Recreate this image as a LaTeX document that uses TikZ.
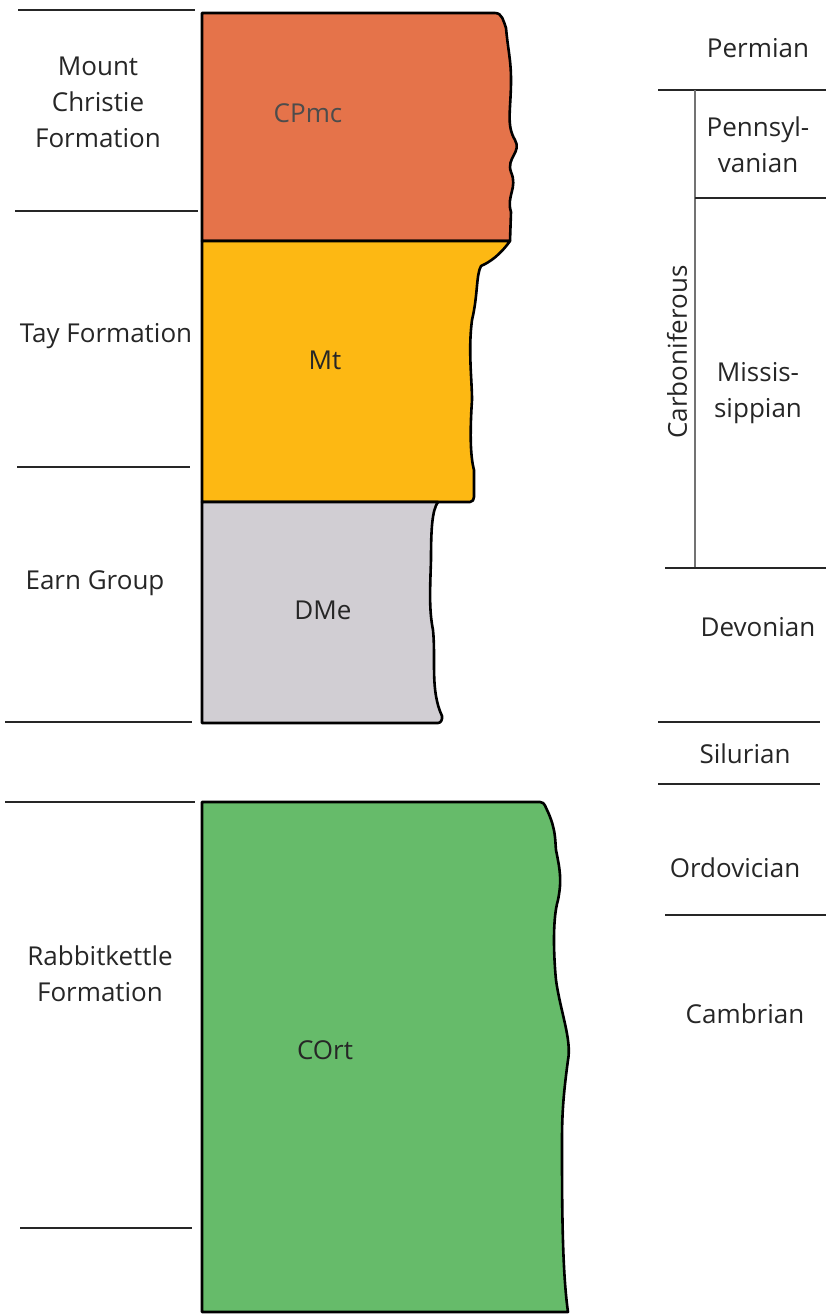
\documentclass[tikz,border=0pt]{standalone}
\usepackage{fontspec}
\setmainfont{Open Sans}
\definecolor{cpmc}{HTML}{E5734A}
\definecolor{mt}{HTML}{FDB813}
\definecolor{dme}{HTML}{D1CED3}
\definecolor{cort}{HTML}{66BB6A}
\begin{document}
\begin{tikzpicture}
			[x=1pt,y=-1pt,
			unit/.style={draw=black,line width=2.6pt,line join=round},
			lbl/.style={font=\fontsize{26}{36}\selectfont,align=center,inner sep=0pt,text=black!85},
			rule/.style={line width=2pt,black!85},
			thin/.style={line width=1.2pt,black!55}]
			\useasboundingbox (0,0) rectangle (826,1315);
			% rock units
			\draw[unit,fill=cpmc] (202,13) -- (495,13) to[out=0,in=110] (506,28)
				.. controls (508,50) and (511,60) .. (511,80)
				.. controls (511,110) and (506,125) .. (515,140)
				.. controls (522,152) and (506,158) .. (511,172)
				.. controls (518,188) and (506,196) .. (511,212)
				-- (510,241) -- (202,241) -- cycle;
			\draw[unit,fill=mt] (202,241) -- (510,241)
				.. controls (500,255) and (490,262) .. (481,266)
				.. controls (476,275) and (478,295) .. (472,320)
				.. controls (468,350) and (472,380) .. (472,400)
				.. controls (470,430) and (470,455) .. (474,470)
				-- (474,497) to[out=-90,in=0] (470,502) -- (202,502) -- cycle;
			\draw[unit,fill=dme] (202,502) -- (438,502)
				.. controls (432,510) and (431,530) .. (431,560)
				.. controls (430,590) and (429,610) .. (433,630)
				.. controls (436,660) and (430,690) .. (442,716)
				to[out=-80,in=0] (438,723) -- (202,723) -- cycle;
			\draw[unit,fill=cort] (202,802) -- (540,802) to[out=0,in=120] (548,812)
				.. controls (556,830) and (555,840) .. (556,850)
				.. controls (560,870) and (562,880) .. (558,900)
				.. controls (552,920) and (554,960) .. (556,980)
				.. controls (560,1010) and (572,1040) .. (568,1060)
				.. controls (564,1090) and (562,1110) .. (562,1140)
				.. controls (562,1200) and (562,1270) .. (568,1312)
				-- (202,1312) -- cycle;
			\node[lbl,name=cpmcname,text=black!70] at (308,113) {CPmc};
			\node[lbl,name=mtname] at (325,360) {Mt};
			\node[lbl,name=dmename] at (323,610) {DMe};
			\node[lbl,name=cortname] at (325,1050) {COrt};
			% formations
			\draw[rule] (18,10) -- (195,10);
			\draw[rule] (15,211) -- (198,211);
			\draw[rule] (17,467) -- (190,467);
			\draw[rule] (5,722) -- (192,722);
			\draw[rule] (5,802) -- (195,802);
			\draw[rule] (20,1228) -- (192,1228);
			\node[lbl,name=mountchristie] at (98,102) {Mount\\Christie\\Formation};
			\node[lbl,name=tay] at (106,336) {Tay Formation};
			\node[lbl,name=earn] at (95,583) {Earn Group};
			\node[lbl,name=rabbitkettle] at (100,974) {Rabbitkettle\\Formation};
			% periods
			\draw[rule] (658,90) -- (826,90);
			\draw[thin] (695,90) -- (695,568);
			\draw[rule] (695,198) -- (826,198);
			\draw[rule] (665,568) -- (826,568);
			\draw[rule] (658,722) -- (820,722);
			\draw[rule] (658,784) -- (820,784);
			\draw[rule] (665,915) -- (826,915);
			\node[lbl,name=permian] at (758,48) {Permian};
			\node[lbl,name=pennsylvanian] at (758,145) {Pennsyl-\\vanian};
			\node[lbl,name=mississippian] at (758,393) {Missis-\\sippian};
			\node[lbl,name=carboniferous,rotate=90] at (677,352) {Carboniferous};
			\node[lbl,name=devonian] at (758,627) {Devonian};
			\node[lbl,name=silurian] at (745,754) {Silurian};
			\node[lbl,name=ordovician] at (735,868) {Ordovician};
			\node[lbl,name=cambrian] at (745,1014) {Cambrian};
		\end{tikzpicture}
\end{document}
